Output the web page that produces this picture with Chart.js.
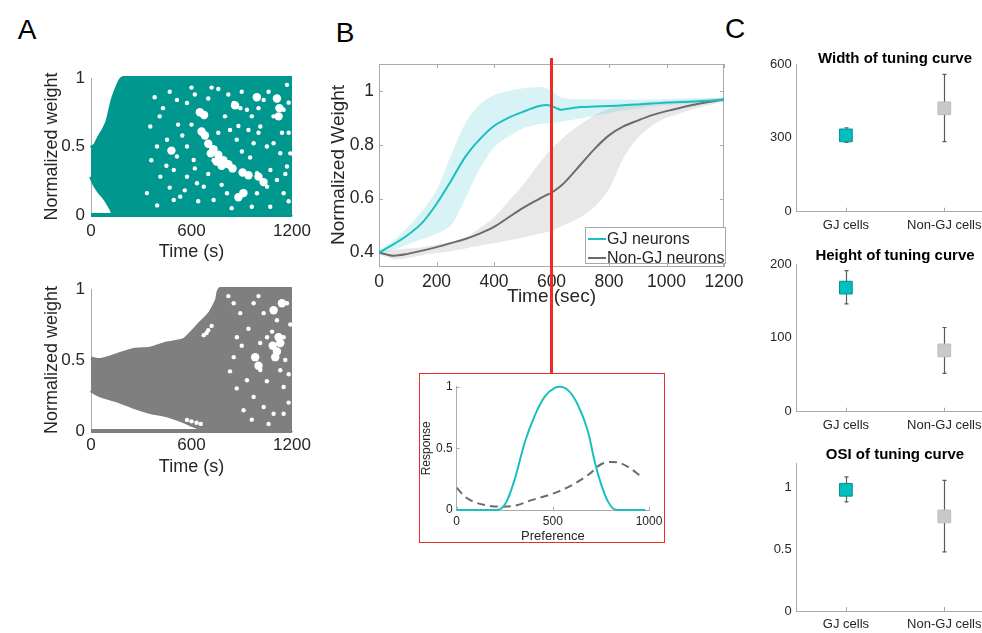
<!DOCTYPE html>
<html>
<head>
<meta charset="utf-8">
<script src="https://cdn.jsdelivr.net/npm/chart.js@4/dist/chart.umd.min.js"></script>
<style>
  html, body { margin: 0; padding: 0; background: #fff; overflow: hidden; width: 982px; height: 633px; }
  body { position: relative; font-family: 'Liberation Sans', Arial, Helvetica, sans-serif; color: #262626; }
  canvas { position: absolute; }
  .txt { position: absolute; white-space: nowrap; line-height: 1; transform: translate(-50%, -50%); }
  .letter { font-size: 28px; color: #000; }
  .ctitle { font-size: 15px; font-weight: bold; color: #000; }
  #legB { position: absolute; left: 585px; top: 227px; width: 139px; height: 35px; border: 1px solid #a8a8a8; background: #fff; font-size: 16px; z-index: 3; }
  #legB .row { position: absolute; left: 0; height: 18px; line-height: 18px; white-space: nowrap; }
  #legB .sw { position: absolute; left: 2px; top: 8px; width: 18px; height: 2px; }
  #legB .lab { position: absolute; left: 21px; top: 0; }
  #redLine { position: absolute; background: rgb(235, 45, 35); z-index: 2; }
  #insetBox { position: absolute; left: 419px; top: 373px; width: 244px; height: 168px; border: 1.5px solid rgb(235, 45, 35); background: #fff; }
</style>
</head>
<body>
<div class="txt letter" style="left:27px;top:30px">A</div>
<div class="txt letter" style="left:345px;top:33px">B</div>
<div class="txt letter" style="left:735px;top:29px">C</div>

<canvas id="cA1"></canvas>
<canvas id="cA2"></canvas>
<canvas id="cB"></canvas>
<div id="legB"></div>
<div id="redLine"></div>
<div id="insetBox"></div>
<canvas id="cIn"></canvas>

<canvas id="cC1"></canvas>
<canvas id="cC2"></canvas>
<canvas id="cC3"></canvas>
<div class="txt ctitle" style="left:895px;top:57px">Width of tuning curve</div>
<div class="txt ctitle" style="left:895px;top:254px">Height of tuning curve</div>
<div class="txt ctitle" style="left:895px;top:453px">OSI of tuning curve</div>

<script>
// ---------------- Panel A: weight distributions over time ----------------
// envelope of the weight cloud (GJ population)
const a1Time  = [0, 25, 50, 75, 100, 125, 135, 150, 175, 195, 1200];
const a1Upper = [0.49, 0.51, 0.57, 0.62, 0.69, 0.82, 0.86, 0.91, 0.98, 1.0, 1.0];
const a1Lower = [0.28, 0.215, 0.17, 0.135, 0.09, 0.035, 0.0, 0.0, 0.0, 0.0, 0.0];
// wide empty pockets inside the GJ cloud [time, weight]
const a1Pockets = [
  [700, 0.52], [730, 0.48], [760, 0.44], [790, 0.40], [820, 0.37], [845, 0.34], [715, 0.45], [750, 0.39], [780, 0.36],
  [905, 0.31], [940, 0.29], [880, 0.13], [910, 0.16], [650, 0.75], [675, 0.73], [1000, 0.28], [1030, 0.24],
  [480, 0.47], [1110, 0.85], [1125, 0.78], [1120, 0.72], [990, 0.86], [860, 0.8], [680, 0.58], [660, 0.61]
];
// scattered small gaps inside the GJ cloud [time, weight]
const a1Gaps = [
  [742, 0.488], [852, 0.329], [732, 0.40], [901, 0.463], [991, 0.305], [1031, 0.232],
  [494, 0.11], [533, 0.134], [633, 0.232], [673, 0.207], [991, 0.159], [1051, 0.207], [732, 0.11], [812, 0.159],
  [513, 0.84], [573, 0.817], [673, 0.73], [852, 0.817], [892, 0.78], [931, 0.768], [1031, 0.84], [1150, 0.768],
  [1090, 0.72], [1011, 0.646], [354, 0.646], [394, 0.5], [454, 0.549], [513, 0.427], [573, 0.5], [613, 0.402],
  [494, 0.329], [414, 0.28], [573, 0.28], [334, 0.16], [1090, 0.524], [1130, 0.451], [1170, 0.354], [1071, 0.329],
  [1110, 0.256], [1150, 0.159], [971, 0.524], [430, 0.78], [470, 0.9], [600, 0.93], [760, 0.92], [880, 0.65],
  [940, 0.62], [1180, 0.6], [1170, 0.95], [840, 0.05], [1180, 0.1], [380, 0.86], [410, 0.72], [450, 0.36],
  [520, 0.66], [545, 0.58], [600, 0.66], [620, 0.88], [700, 0.85], [720, 0.93], [800, 0.72], [830, 0.62],
  [870, 0.55], [960, 0.72], [1000, 0.6], [1050, 0.5], [1060, 0.9], [1180, 0.82], [1190, 0.45], [1160, 0.3],
  [1070, 0.06], [960, 0.06], [780, 0.22], [700, 0.3], [640, 0.1], [560, 0.18], [470, 0.2], [360, 0.4],
  [395, 0.07], [620, 0.34], [900, 0.9], [950, 0.42], [1140, 0.6], [1000, 0.78], [820, 0.88], [760, 0.6]
];
const a1StripEnd = 1200;

// envelope of the weight cloud (non-GJ population)
const a2Time  = [0, 56, 155, 255, 354, 454, 553, 600, 653, 693, 712, 752, 772, 1200];
const a2Upper = [0.51, 0.50, 0.534, 0.57, 0.58, 0.616, 0.64, 0.69, 0.758, 0.805, 0.83, 0.92, 1.0, 1.0];
const a2Lower = [0.287, 0.25, 0.216, 0.17, 0.134, 0.11, 0.07, 0.045, 0.02, 0.0, 0.0, 0.0, 0.0, 0.0];
const a2Pockets = [
  [1085, 0.6], [1110, 0.56], [1130, 0.62], [1100, 0.52], [1120, 0.66], [980, 0.52], [1000, 0.46], [1090, 0.85], [1140, 0.9]
];
const a2Gaps = [
  [573, 0.078], [600, 0.068], [630, 0.058], [655, 0.05],
  [673, 0.675], [700, 0.71], [720, 0.74], [690, 0.69],
  [852, 0.9], [891, 0.83], [971, 0.9], [1031, 0.83], [1110, 0.78], [1051, 0.66], [1081, 0.7],
  [1011, 0.43], [1130, 0.428], [1150, 0.31], [931, 0.357], [971, 0.24],
  [911, 0.146], [1031, 0.169], [1090, 0.122], [1150, 0.122], [852, 0.52], [871, 0.66], [1150, 0.66], [1170, 0.9],
  [1000, 0.95], [1180, 0.4], [820, 0.95], [900, 0.6], [940, 0.72], [1050, 0.35], [1180, 0.2], [870, 0.3],
  [960, 0.08], [1060, 0.05], [1190, 0.75], [830, 0.42], [1160, 0.5], [1010, 0.62]
];
const a2StripEnd = 700;
const aXTicks = [0, 600, 1200];
const aXTickLabels = ['0', '600', '1200'];
const aYTicks = [0, 0.5, 1];
const aYTickLabels = ['0', '0.5', '1'];

// ---------------- Panel B: mean normalized weight ----------------
const bTime       = [0, 50, 100, 150, 200, 250, 300, 350, 400, 450, 500, 550, 580, 600, 630, 650, 700, 750, 800, 850, 900, 950, 1000, 1100, 1200];
const gjMean      = [0.400, 0.430, 0.465, 0.510, 0.580, 0.665, 0.755, 0.820, 0.870, 0.900, 0.922, 0.942, 0.948, 0.944, 0.930, 0.933, 0.940, 0.942, 0.944, 0.947, 0.950, 0.953, 0.957, 0.961, 0.968];
const gjUpper     = [0.410, 0.445, 0.495, 0.555, 0.630, 0.760, 0.880, 0.950, 0.985, 1.000, 1.010, 1.015, 1.012, 1.000, 0.977, 0.972, 0.970, 0.969, 0.968, 0.968, 0.968, 0.969, 0.970, 0.973, 0.975];
const gjLower     = [0.395, 0.410, 0.430, 0.450, 0.470, 0.500, 0.600, 0.710, 0.790, 0.830, 0.860, 0.875, 0.879, 0.881, 0.885, 0.889, 0.898, 0.908, 0.918, 0.928, 0.935, 0.943, 0.948, 0.953, 0.960];
const nonGjMean   = [0.400, 0.388, 0.395, 0.407, 0.420, 0.435, 0.450, 0.470, 0.495, 0.530, 0.565, 0.595, 0.612, 0.622, 0.645, 0.665, 0.725, 0.785, 0.835, 0.868, 0.890, 0.910, 0.925, 0.950, 0.968];
const nonGjUpper  = [0.405, 0.410, 0.415, 0.420, 0.430, 0.440, 0.455, 0.490, 0.530, 0.590, 0.650, 0.720, 0.760, 0.785, 0.815, 0.835, 0.875, 0.910, 0.935, 0.948, 0.955, 0.960, 0.962, 0.968, 0.975];
const nonGjLower  = [0.395, 0.375, 0.380, 0.390, 0.398, 0.405, 0.415, 0.425, 0.435, 0.445, 0.455, 0.468, 0.475, 0.480, 0.495, 0.505, 0.530, 0.570, 0.635, 0.750, 0.825, 0.872, 0.900, 0.935, 0.960];
const bXTicks = [0, 200, 400, 600, 800, 1000, 1200];
const bXTickLabels = ['0', '200', '400', '600', '800', '1000', '1200'];
const bYTicks = [0.4, 0.6, 0.8, 1.0];
const bYTickLabels = ['0.4', '0.6', '0.8', '1'];
const seriesNames = ['GJ neurons', 'Non-GJ neurons'];
const redLineTime = 600;

// inset: tuning curves at the marked time
const gjPref    = [0, 200, 230, 260, 300, 355, 407, 458, 510, 536, 580, 631, 683, 718, 753, 787, 822, 856, 980];
const gjResp    = [0, 0, 0.01, 0.07, 0.24, 0.554, 0.77, 0.92, 0.99, 1.0, 0.97, 0.85, 0.635, 0.39, 0.2, 0.068, 0.005, 0, 0];
const nonGjPref = [0, 43, 87, 147, 234, 303, 389, 476, 528, 597, 683, 753, 804, 839, 891, 960];
const nonGjResp = [0.18, 0.108, 0.068, 0.04, 0.027, 0.035, 0.08, 0.12, 0.149, 0.2, 0.284, 0.373, 0.39, 0.386, 0.35, 0.27];
const inXTicks = [0, 500, 1000];
const inXTickLabels = ['0', '500', '1000'];
const inYTicks = [0, 0.5, 1];
const inYTickLabels = ['0', '0.5', '1'];

// ---------------- Panel C: tuning curve summary ----------------
const cCategories = ['GJ cells', 'Non-GJ cells'];
const widthMean  = [310, 420];
const widthLow   = [282, 285];
const widthHigh  = [341, 558];
const heightMean = [168, 83];
const heightLow  = [146, 52];
const heightHigh = [191, 114];
const osiMean    = [0.985, 0.768];
const osiLow     = [0.886, 0.48];
const osiHigh    = [1.09, 1.062];
const c1YTicks = [0, 300, 600];
const c2YTicks = [0, 100, 200];
const c3YTicks = [0, 0.5, 1];
const c3YTickLabels = ['0', '0.5', '1'];

// ---------------- styling ----------------
const FONT = "'Liberation Sans', Arial, Helvetica, sans-serif";
const INK = '#262626';
const AXIS = '#ababab';
const TEAL_A = '#00978f';
const GRAY_A = '#7f7f7f';
const TEAL = '#1bbfbf';
const GRAY_LINE = '#6b6b6b';

Chart.defaults.font.family = FONT;
Chart.defaults.color = INK;

// extra axis decorations: closing box lines and inward tick marks
const axisDecor = {
  id: 'axisDecor',
  beforeDatasetsDraw(chart, args, o) {
    if (!o || !o.on) return;
    const { ctx, chartArea: a, scales } = chart;
    ctx.save();
    ctx.strokeStyle = o.color || AXIS;
    ctx.lineWidth = 1;
    ctx.beginPath();
    if (o.box) {
      ctx.moveTo(a.left, a.top + 0.5); ctx.lineTo(a.right, a.top + 0.5);
      ctx.moveTo(a.right - 0.5, a.top); ctx.lineTo(a.right - 0.5, a.bottom);
    }
    const L = o.len || 0;
    if (L && o.xTicks) {
      scales.x.ticks.forEach((t, i) => {
        const px = Math.round(scales.x.getPixelForTick(i)) + 0.5;
        ctx.moveTo(px, a.bottom); ctx.lineTo(px, a.bottom - L);
        if (o.box) { ctx.moveTo(px, a.top); ctx.lineTo(px, a.top + L); }
      });
    }
    if (L && o.yTicks) {
      scales.y.ticks.forEach((t, i) => {
        const py = Math.round(scales.y.getPixelForTick(i)) + 0.5;
        ctx.moveTo(a.left, py); ctx.lineTo(a.left + L, py);
        if (o.box) { ctx.moveTo(a.right, py); ctx.lineTo(a.right - L, py); }
      });
    }
    ctx.stroke();
    ctx.restore();
  }
};

// vertical error bars from dataset.errLow / dataset.errHigh
const errorBars = {
  id: 'errorBars',
  beforeDatasetsDraw(chart) {
    const { ctx } = chart;
    const y = chart.scales.y;
    chart.data.datasets.forEach((ds, di) => {
      if (!ds.errLow) return;
      const meta = chart.getDatasetMeta(di);
      ctx.save();
      ctx.strokeStyle = '#5a5a5a';
      ctx.lineWidth = 1.2;
      meta.data.forEach((pt, i) => {
        const x = Math.round(pt.x) + 0.5;
        const yl = y.getPixelForValue(ds.errLow[i]);
        const yh = y.getPixelForValue(ds.errHigh[i]);
        ctx.beginPath();
        ctx.moveTo(x, yl); ctx.lineTo(x, yh);
        ctx.moveTo(x - 2, yl); ctx.lineTo(x + 2, yl);
        ctx.moveTo(x - 2, yh); ctx.lineTo(x + 2, yh);
        ctx.stroke();
      });
      ctx.restore();
    });
  }
};
Chart.register(axisDecor, errorBars);

const pts = (xs, ys) => xs.map((x, i) => ({ x: x, y: ys[i] }));

// builds a chart whose plot rectangle lands on the given page box
function makeChart(id, cv, plot, cfg) {
  const el = document.getElementById(id);
  el.width = cv.w; el.height = cv.h;
  el.style.left = cv.x + 'px'; el.style.top = cv.y + 'px';
  el.style.width = cv.w + 'px'; el.style.height = cv.h + 'px';
  const W = plot.yw, H = plot.xh;
  cfg.options = cfg.options || {};
  Object.assign(cfg.options, {
    responsive: false, animation: false, devicePixelRatio: 1, events: [],
    layout: {
      autoPadding: false,
      padding: {
        left: plot.l - cv.x - W,
        top: plot.t - cv.y,
        right: cv.x + cv.w - plot.r,
        bottom: cv.y + cv.h - plot.b - H
      }
    }
  });
  const sc = cfg.options.scales;
  sc.x.afterFit = s => { s.height = H; s.paddingLeft = 0; s.paddingRight = 0; };
  sc.y.afterFit = s => { s.width = W; s.paddingTop = 0; s.paddingBottom = 0; };
  cfg.options.plugins = Object.assign({ legend: { display: false }, tooltip: { enabled: false } }, cfg.options.plugins || {});
  return new Chart(el, cfg);
}

function fixedTicks(values) {
  return s => { s.ticks = values.map(v => ({ value: v })); };
}

function axisLinear(min, max, ticks, labels, font, pad, title) {
  return {
    type: 'linear', min: min, max: max,
    afterBuildTicks: fixedTicks(ticks),
    ticks: { callback: (v, i) => labels[i], font: font, padding: pad, color: INK, maxRotation: 0, autoSkip: false },
    grid: { display: false, drawTicks: false },
    border: { display: true, color: AXIS, width: 1 },
    title: title ? { display: true, text: title.text, font: title.font, color: INK, padding: 0 } : { display: false }
  };
}

// ---- Panel A charts ----
function cloudChart(id, cv, plot, time, lower, upper, pockets, gaps, stripEnd, color) {
  return makeChart(id, cv, plot, {
    type: 'line',
    data: {
      datasets: [
        { data: pts(time, lower), borderColor: color, borderWidth: 4, pointRadius: 0, fill: false, clip: 3, order: 2, tension: 0.25 },
        { data: pts(time, upper), borderColor: color, backgroundColor: color, borderWidth: 4, pointRadius: 0, fill: '-1', clip: 3, order: 1, tension: 0.25 },
        { data: [{ x: 0, y: 0 }, { x: stripEnd, y: 0 }], borderColor: color, borderWidth: 4, pointRadius: 0, fill: false, clip: 3, order: 0 },
        { data: pockets.map(g => ({ x: g[0], y: g[1] })), showLine: false, pointRadius: 4.2, pointBackgroundColor: '#ffffff', pointBorderWidth: 0, order: 0 },
        { data: gaps.map(g => ({ x: g[0], y: g[1] })), showLine: false, pointRadius: 2.2, pointBackgroundColor: '#ffffff', pointBorderWidth: 0, order: 0 }
      ]
    },
    options: {
      scales: {
        x: axisLinear(0, 1200, aXTicks, aXTickLabels, { size: 17 }, plot.xpad, { text: 'Time (s)', font: { size: 18 } }),
        y: axisLinear(0, 1, aYTicks, aYTickLabels, { size: 17 }, 6, { text: 'Normalized weight', font: { size: 18 } })
      }
    }
  });
}

cloudChart('cA1', { x: 0, y: 60, w: 320, h: 210 }, { l: 91, t: 78, r: 292, b: 215, yw: 49.8, xh: 47.8, xpad: 6.5 },
  a1Time, a1Lower, a1Upper, a1Pockets, a1Gaps, a1StripEnd, TEAL_A);
cloudChart('cA2', { x: 0, y: 275, w: 320, h: 205 }, { l: 91, t: 289, r: 292, b: 431, yw: 49.8, xh: 46.8, xpad: 4.5 },
  a2Time, a2Lower, a2Upper, a2Pockets, a2Gaps, a2StripEnd, GRAY_A);

// ---- Panel B chart ----
const cvB = { x: 300, y: 50, w: 460, h: 260 };
const chartB = makeChart('cB', cvB, { l: 379, t: 64, r: 724, b: 266, yw: 52.1, xh: 42.4 }, {
  type: 'line',
  data: {
    datasets: [
      { data: pts(bTime, nonGjLower), borderWidth: 0, pointRadius: 0, fill: false, order: 4, tension: 0.3 },
      { data: pts(bTime, nonGjUpper), borderWidth: 0, pointRadius: 0, fill: '-1', backgroundColor: 'rgba(150,150,150,0.22)', order: 3, tension: 0.3 },
      { data: pts(bTime, gjLower), borderWidth: 0, pointRadius: 0, fill: false, order: 2, tension: 0.3 },
      { data: pts(bTime, gjUpper), borderWidth: 0, pointRadius: 0, fill: '-1', backgroundColor: 'rgba(40,190,200,0.18)', order: 2, tension: 0.3 },
      { label: seriesNames[1], data: pts(bTime, nonGjMean), borderColor: GRAY_LINE, borderWidth: 2, pointRadius: 0, fill: false, order: 1, tension: 0.3 },
      { label: seriesNames[0], data: pts(bTime, gjMean), borderColor: TEAL, borderWidth: 2, pointRadius: 0, fill: false, order: 0, tension: 0.3 }
    ]
  },
  options: {
    scales: {
      x: axisLinear(0, 1200, bXTicks, bXTickLabels, { size: 17.5 }, 5.2, { text: 'Time (sec)', font: { size: 19 } }),
      y: axisLinear(0.35, 1.1, bYTicks, bYTickLabels, { size: 17.5 }, 5, { text: 'Normalized Weight', font: { size: 19 } })
    },
    plugins: { axisDecor: { on: true, box: true, len: 4, xTicks: true, yTicks: true, color: AXIS } }
  }
});

// legend for panel B
(function () {
  const leg = document.getElementById('legB');
  const cols = [TEAL, GRAY_LINE];
  seriesNames.forEach((name, i) => {
    const row = document.createElement('div');
    row.className = 'row';
    row.style.top = (1.5 + i * 19) + 'px';
    row.style.width = '139px';
    row.innerHTML = '<span class="sw" style="background:' + cols[i] + '"></span><span class="lab">' + name + '</span>';
    leg.appendChild(row);
  });
})();

// red marker at the sampled time, running down to the inset
(function () {
  const xr = cvB.x + chartB.scales.x.getPixelForValue(redLineTime);
  const rl = document.getElementById('redLine');
  rl.style.left = (xr - 1.5) + 'px';
  rl.style.top = '58px';
  rl.style.width = '2.6px';
  rl.style.height = (374 - 58) + 'px';
})();

// ---- inset chart ----
makeChart('cIn', { x: 410, y: 376, w: 262, h: 170 }, { l: 456.7, t: 386.7, r: 649, b: 510, yw: 37.2, xh: 34.5 }, {
  type: 'line',
  data: {
    datasets: [
      { data: pts(nonGjPref, nonGjResp), borderColor: GRAY_LINE, borderWidth: 2, borderDash: [8, 5], pointRadius: 0, fill: false, cubicInterpolationMode: 'monotone', order: 1 },
      { data: pts(gjPref, gjResp), borderColor: TEAL, borderWidth: 2, pointRadius: 0, fill: false, cubicInterpolationMode: 'monotone', order: 0, clip: 2 }
    ]
  },
  options: {
    scales: {
      x: axisLinear(0, 1000, inXTicks, inXTickLabels, { size: 12 }, 4.5, { text: 'Preference', font: { size: 13 } }),
      y: axisLinear(0, 1, inYTicks, inYTickLabels, { size: 12 }, 4, { text: 'Response', font: { size: 12 } })
    },
    plugins: { axisDecor: { on: true, box: false, len: 3, xTicks: true, yTicks: true, color: AXIS } }
  }
});

// ---- Panel C charts ----
function summaryChart(id, cv, plot, mean, low, high, ymax, yTicks, yLabels) {
  return makeChart(id, cv, plot, {
    type: 'line',
    data: {
      labels: cCategories,
      datasets: [{
        data: mean, showLine: false, pointStyle: 'rect', pointRadius: 9,
        pointBackgroundColor: ['#00bfbf', '#c9c9c9'],
        pointBorderColor: ['#0a8f8f', '#bdbdbd'],
        pointBorderWidth: 1,
        errLow: low, errHigh: high
      }]
    },
    options: {
      scales: {
        x: {
          type: 'category', offset: true,
          ticks: { font: { size: 13 }, padding: 5.5, color: INK, maxRotation: 0, autoSkip: false },
          grid: { display: false, drawTicks: false },
          border: { display: true, color: AXIS, width: 1 }
        },
        y: axisLinear(0, ymax, yTicks, yLabels, { size: 13 }, 5, null)
      },
      plugins: { axisDecor: { on: true, box: false, len: 4, xTicks: true, yTicks: false, color: AXIS } }
    }
  });
}

summaryChart('cC1', { x: 740, y: 40, w: 260, h: 200 }, { l: 796.7, t: 64, r: 993.5, b: 211.7, yw: 56.7, xh: 25 },
  widthMean, widthLow, widthHigh, 600, c1YTicks, c1YTicks.map(String));
summaryChart('cC2', { x: 740, y: 240, w: 260, h: 200 }, { l: 796.7, t: 264, r: 993.5, b: 411.7, yw: 56.7, xh: 25 },
  heightMean, heightLow, heightHigh, 200, c2YTicks, c2YTicks.map(String));
summaryChart('cC3', { x: 740, y: 440, w: 260, h: 193 }, { l: 796.7, t: 463.3, r: 993.5, b: 611, yw: 56.7, xh: 20 },
  osiMean, osiLow, osiHigh, 1.2, c3YTicks, c3YTickLabels);
</script>
</body>
</html>
